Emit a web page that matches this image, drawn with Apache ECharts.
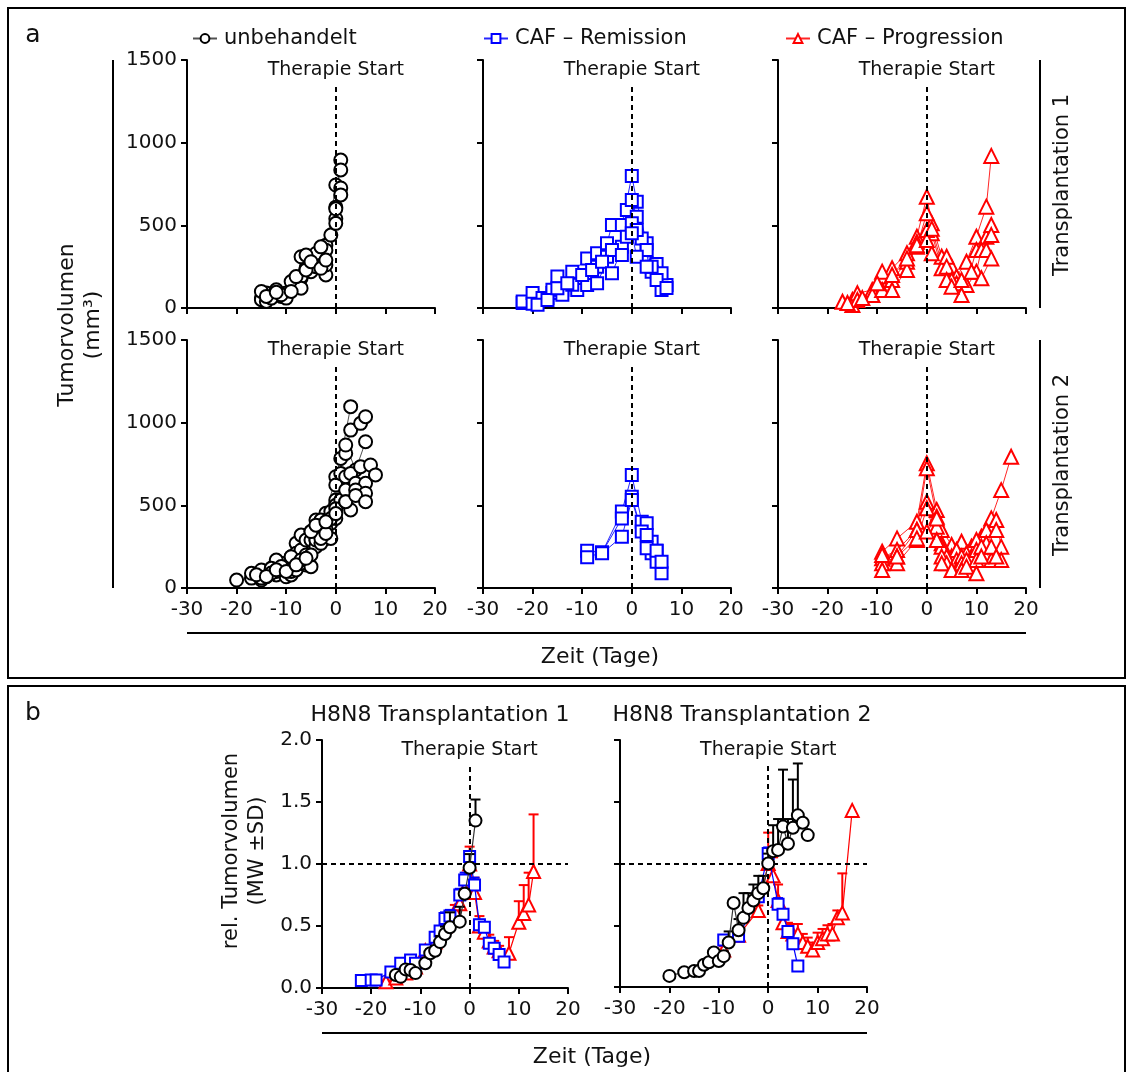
<!DOCTYPE html>
<html>
<head>
<meta charset="utf-8">
<script src="https://cdn.jsdelivr.net/npm/echarts@6.0.0/dist/echarts.min.js"></script>
<style>
  html, body { margin: 0; padding: 0; background: #fff; }
  #chart { width: 1127px; height: 1072px; }
</style>
</head>
<body>
<div id="chart"></div>
<script>
// ---------- a: individual tumour volumes (mm³) per day relative to therapy start ----------
// each tumour is a list of [day, volume] pairs
const t1Untreated = [
  [[-15,60],[-13,80],[-11,70],[-9,110],[-7,180],[-6,240],[-4,290],[-2,380],[0,610],[1,895]],
  [[-15,50],[-14,40],[-12,100],[-10,90],[-8,150],[-7,190],[-5,260],[-3,300],[-2,350],[0,744],[1,835]],
  [[-14,90],[-12,110],[-10,60],[-8,130],[-7,310],[-5,220],[-4,330],[-2,200],[-1,441],[0,540],[1,726]],
  [[-15,100],[-13,60],[-11,80],[-9,160],[-7,120],[-6,320],[-4,250],[-3,370],[-2,260],[0,512],[1,684]],
  [[-14,70],[-12,95],[-9,100],[-8,190],[-6,230],[-5,280],[-3,240],[-2,290],[0,600]]
];
const t1Remission = [
  [[-22,30],[-19,50],[-16,90],[-14,110],[-12,220],[-9,300],[-7,331],[-5,391],[-4,502],[-2,502],[0,799],[1,643],[3,391],[5,266],[7,139]],
  [[-22,40],[-20,90],[-17,60],[-15,190],[-11,109],[-9,200],[-7,250],[-5,310],[-2,371],[-1,593],[0,653],[1,552],[2,420],[4,220],[6,210]],
  [[-20,25],[-18,60],[-16,110],[-14,80],[-12,140],[-9,139],[-7,149],[-4,351],[-2,320],[0,512],[1,472],[3,351],[4,250],[6,109]],
  [[-19,20],[-17,48],[-15,120],[-13,150],[-10,200],[-8,230],[-6,280],[-4,210],[-1,431],[0,452],[1,310],[3,250],[5,169],[7,121]]
];
const t1Progression = [
  [[-17,38],[-15,48],[-11,79],[-9,190],[-7,240],[-4,331],[-2,431],[0,673],[1,512],[3,310],[5,250],[6,190],[8,280],[10,431],[12,613],[13,920]],
  [[-15,18],[-14,89],[-11,109],[-9,220],[-7,169],[-4,280],[-2,371],[0,573],[1,452],[3,240],[4,310],[6,149],[8,139],[10,351],[12,431],[13,502]],
  [[-14,48],[-11,79],[-9,109],[-7,109],[-4,230],[-2,400],[0,472],[1,331],[4,250],[5,169],[7,79],[10,220],[11,351],[12,351],[13,441]],
  [[-16,30],[-13,60],[-10,150],[-7,200],[-4,300],[-2,380],[0,411],[1,480],[4,169],[5,129],[7,169],[9,220],[11,180],[13,300]]
];
const t2Untreated = [
  [[-20,48],[-17,60],[-15,109],[-13,119],[-11,149],[-9,189],[-8,270],[-7,320],[-5,341],[-4,411],[-2,452],[0,673],[1,784],[3,1097]],
  [[-17,89],[-15,48],[-12,169],[-10,119],[-8,210],[-7,230],[-6,290],[-4,341],[-3,411],[-1,391],[0,623],[2,814],[3,955],[5,996],[6,1036]],
  [[-14,68],[-12,79],[-10,68],[-9,79],[-8,149],[-6,200],[-5,290],[-4,290],[-2,361],[-1,462],[0,532],[2,865],[4,714],[6,885]],
  [[-13,119],[-11,119],[-9,100],[-8,109],[-7,149],[-6,139],[-4,250],[-3,331],[-2,300],[0,421],[1,693],[2,673],[3,693],[5,734],[7,744]],
  [[-15,60],[-12,100],[-10,110],[-8,149],[-7,150],[-5,129],[-4,290],[-3,270],[-1,300],[0,500],[1,532],[2,592],[4,633],[6,633],[8,684]],
  [[-16,80],[-13,90],[-11,130],[-9,189],[-7,170],[-5,200],[-3,300],[-2,330],[-1,420],[0,480],[2,522],[3,472],[4,593],[6,573]],
  [[-14,70],[-12,110],[-10,100],[-8,140],[-6,180],[-5,341],[-4,380],[-2,400],[0,450],[2,522],[4,560],[6,522]]
];
const t2Remission = [
  [[-9,226],[-6,214],[-2,462],[0,684],[2,401],[3,391],[4,280],[5,226],[6,89]],
  [[-9,186],[-6,214],[-2,421],[0,552],[2,341],[3,320],[4,210],[5,159]],
  [[-6,210],[-2,310],[0,532],[3,240],[5,226],[6,159]]
];
const t2Progression = [
  [[-9,220],[-6,300],[-2,401],[0,754],[2,472],[3,351],[5,260],[7,280],[9,250],[11,310],[13,421],[15,592],[17,794]],
  [[-9,180],[-6,230],[-2,351],[0,724],[2,431],[3,270],[5,190],[6,230],[8,210],[10,290],[12,351],[14,411],[15,250]],
  [[-9,149],[-6,190],[-2,351],[0,522],[2,371],[3,250],[4,190],[6,170],[7,190],[9,190],[10,230],[12,270],[14,351]],
  [[-9,109],[-6,149],[-2,290],[0,482],[2,290],[3,190],[4,149],[6,109],[7,149],[8,170],[10,170],[11,250],[13,170],[15,170]],
  [[-9,200],[-6,190],[-2,300],[0,341],[2,421],[3,149],[5,109],[7,109],[8,129],[10,89],[11,190],[13,250],[14,190]]
];

// ---------- b: relative tumour volume, mean and SD per day ----------
const b1UntreatedDays = [-15,-14,-13,-12,-11,-9,-8,-7,-6,-5,-4,-2,-1,0,1.2];
const b1UntreatedMean = [0.105,0.09,0.15,0.145,0.12,0.2,0.28,0.30,0.37,0.435,0.49,0.535,0.76,0.97,1.35];
const b1UntreatedSd   = [0.01,0.01,0.02,0.02,0.02,0.03,0.03,0.04,0.05,0.06,0.12,0.12,0.04,0.11,0.17];

const b1RemissionDays = [-22,-20,-19,-16,-14,-12,-11,-9,-7,-6,-5,-4,-2,-1,0,1,2,3,4,5,6,7];
const b1RemissionMean = [0.06,0.065,0.065,0.13,0.2,0.226,0.2,0.306,0.41,0.46,0.56,0.58,0.75,0.87,1.06,0.83,0.51,0.49,0.36,0.32,0.27,0.21];
const b1RemissionSd   = [0.01,0.01,0.01,0.02,0.02,0.03,0.03,0.03,0.04,0.04,0.05,0.05,0.05,0.06,0.04,0.06,0.04,0.04,0.03,0.03,0.03,0.02];

const b1ProgressionDays = [-17,-15,-13,-11,-9,-7,-5,-3,-2,-1,0,1,2,3,4,5,6,8,10,11,12,13];
const b1ProgressionMean = [0.05,0.08,0.12,0.17,0.3,0.37,0.5,0.62,0.68,0.8,1.0,0.77,0.5,0.45,0.38,0.33,0.3,0.28,0.53,0.6,0.67,0.94];
const b1ProgressionSd   = [0.01,0.02,0.02,0.03,0.04,0.04,0.05,0.05,0.05,0.06,0.14,0.12,0.08,0.06,0.05,0.05,0.04,0.13,0.17,0.23,0.26,0.46];

const b2UntreatedDays = [-20,-17,-15,-14,-13,-12,-11,-10,-9,-8,-7,-6,-5,-4,-3,-2,-1,0,1,2,3,4,5,6,7,8];
const b2UntreatedMean = [0.09,0.12,0.13,0.13,0.18,0.2,0.28,0.21,0.25,0.36,0.68,0.46,0.56,0.64,0.7,0.76,0.8,1.0,1.1,1.11,1.3,1.16,1.29,1.39,1.33,1.23];
const b2UntreatedSd   = [0.01,0.01,0.02,0.02,0.02,0.03,0.03,0.03,0.04,0.09,0.02,0.09,0.2,0.12,0.13,0.14,0.1,0.08,0.21,0.25,0.46,0.2,0.39,0.42,0,0];

const b2RemissionDays = [-9,-6,-2,0,2,3,4,5,6];
const b2RemissionMean = [0.38,0.41,0.73,1.08,0.67,0.59,0.45,0.35,0.17];
const b2RemissionSd   = [0.03,0.03,0.05,0.05,0.05,0.04,0.04,0.04,0.03];

const b2ProgressionDays = [-9,-6,-2,0,1,2,3,4,5,6,7,8,9,10,11,12,13,14,15,17];
const b2ProgressionMean = [0.3,0.42,0.62,1.0,0.9,0.7,0.52,0.45,0.43,0.43,0.36,0.33,0.3,0.36,0.39,0.43,0.43,0.56,0.6,1.43];
const b2ProgressionSd   = [0.03,0.05,0.04,0.25,0.15,0.13,0.1,0.07,0.08,0.08,0.07,0.07,0.06,0.08,0.08,0.07,0.08,0.06,0.32,0];

const dayTicks = { min: -30, max: 20, step: 10 };
const groupNames = ['unbehandelt', 'CAF – Remission', 'CAF – Progression'];

// ---------- styling ----------
const FONT = 'DejaVu Sans';
const INK = '#111';
const BLACK = '#000000', BLUE = '#0000ff', RED = '#ff0000';
const looks = [
  { name: groupNames[0], color: BLACK, symbol: 'circle',   size: 13, line: '#333' },
  { name: groupNames[1], color: BLUE,  symbol: 'rect',     size: 12, line: BLUE },
  { name: groupNames[2], color: RED,   symbol: 'triangle', size: 14, line: RED }
];

// grid rectangles: a (2 rows x 3 cols), then b (2 plots)
const grids = [];
[60, 340].forEach(top => [187, 483, 778].forEach(left =>
  grids.push({ left, top, width: 248, height: 248 })));
grids.push({ left: 322, top: 740, width: 246, height: 248 });
grids.push({ left: 620, top: 740, width: 247, height: 247 });

function xAxis(gi, labels) {
  return {
    type: 'value', gridIndex: gi, min: dayTicks.min, max: dayTicks.max, interval: dayTicks.step,
    axisLine: { show: true, onZero: false, lineStyle: { color: '#000', width: 2 } },
    axisTick: { show: true, length: 6, lineStyle: { color: '#000', width: 2 } },
    axisLabel: { show: labels, color: INK, fontSize: 20, fontFamily: FONT, margin: 12 },
    splitLine: { show: false }
  };
}
function yAxis(gi, max, step, labels, fmt) {
  return {
    type: 'value', gridIndex: gi, min: 0, max, interval: step,
    axisLine: { show: true, onZero: false, lineStyle: { color: '#000', width: 2 } },
    axisTick: { show: true, length: 6, lineStyle: { color: '#000', width: 2 } },
    axisLabel: { show: labels, color: INK, fontSize: 20, fontFamily: FONT, margin: 10,
                 formatter: fmt || (v => String(v)) },
    splitLine: { show: false }
  };
}

const xAxes = [], yAxes = [];
for (let i = 0; i < 6; i++) {
  xAxes.push(xAxis(i, i >= 3));
  yAxes.push(yAxis(i, 1500, 500, i % 3 === 0));
}
xAxes.push(xAxis(6, true), xAxis(7, true));
yAxes.push(yAxis(6, 2, 0.5, true, v => v.toFixed(1)));
yAxes.push(yAxis(7, 2, 0.5, false));

const series = [];

function tumourLines(list, gi, look, z) {
  list.forEach(pts => series.push({
    type: 'line', name: look.name, xAxisIndex: gi, yAxisIndex: gi, data: pts,
    symbol: look.symbol, symbolSize: look.size, showSymbol: true, z,
    lineStyle: { color: look.line, width: 1, opacity: 0.85 },
    itemStyle: { color: '#fff', borderColor: look.color, borderWidth: 2 },
    emphasis: { disabled: true }, animation: false, silent: true
  }));
}

function meanLine(days, mean, gi, look, z) {
  series.push({
    type: 'line', name: look.name, xAxisIndex: gi, yAxisIndex: gi,
    data: days.map((d, i) => [d, mean[i]]),
    symbol: look.symbol, symbolSize: look.size - 1, showSymbol: true, z,
    lineStyle: { color: look.line, width: 1.2 },
    itemStyle: { color: '#fff', borderColor: look.color, borderWidth: 2 },
    emphasis: { disabled: true }, animation: false, silent: true
  });
}

function sdBars(days, mean, sd, gi, color, z) {
  const data = days.map((d, i) => [d, mean[i], mean[i] + sd[i]]).filter(r => r[2] > r[1]);
  series.push({
    type: 'custom', xAxisIndex: gi, yAxisIndex: gi, data, z, silent: true, animation: false,
    encode: { x: 0, y: [1, 2] },
    renderItem(params, api) {
      const p0 = api.coord([api.value(0), api.value(1)]);
      const p1 = api.coord([api.value(0), api.value(2)]);
      return { type: 'group', children: [
        { type: 'line', shape: { x1: p0[0], y1: p0[1], x2: p1[0], y2: p1[1] }, style: { stroke: color, lineWidth: 2 } },
        { type: 'line', shape: { x1: p1[0] - 5, y1: p1[1], x2: p1[0] + 5, y2: p1[1] }, style: { stroke: color, lineWidth: 2 } }
      ] };
    }
  });
}

// dashed guide lines (therapy start, and the 1.0 reference in b)
function guide(gi, from, to, withLabel) {
  series.push({
    type: 'line', xAxisIndex: gi, yAxisIndex: gi, data: [], silent: true, animation: false, z: 1,
    markLine: {
      silent: true, symbol: 'none', animation: false,
      lineStyle: { color: '#000', type: [5, 4], width: 2 },
      label: withLabel
        ? { show: true, position: 'end', formatter: 'Therapie Start', color: INK, fontSize: 19, fontFamily: FONT, distance: 4 }
        : { show: false },
      data: [[{ coord: from }, { coord: to }]]
    }
  });
}

// panel a
const aSets = [t1Untreated, t1Remission, t1Progression, t2Untreated, t2Remission, t2Progression];
aSets.forEach((set, i) => {
  const look = looks[i % 3];
  tumourLines(set, i, look, 3);
  guide(i, [0, 0], [0, 1360], true);
});

// panel b
const bSets = [
  [[b1ProgressionDays, b1ProgressionMean, b1ProgressionSd], [b1RemissionDays, b1RemissionMean, b1RemissionSd], [b1UntreatedDays, b1UntreatedMean, b1UntreatedSd]],
  [[b2ProgressionDays, b2ProgressionMean, b2ProgressionSd], [b2RemissionDays, b2RemissionMean, b2RemissionSd], [b2UntreatedDays, b2UntreatedMean, b2UntreatedSd]]
];
bSets.forEach((groups, k) => {
  const gi = 6 + k;
  guide(gi, [0, 0], [0, 1.81], true);
  guide(gi, [dayTicks.min, 1], [dayTicks.max, 1], false);
  [2, 1, 0].forEach((lookIdx, j) => {
    const [d, m, s] = groups[j];
    const look = looks[lookIdx];
    sdBars(d, m, s, gi, look.color, 2 + j * 2);
    meanLine(d, m, gi, look, 3 + j * 2);
  });
});

// legends across the top of a
const legendPos = [187, 478, 780];
const legends = groupNames.map((n, i) => ({
  data: [n], left: legendPos[i], top: 23, orient: 'horizontal',
  itemWidth: 24, itemHeight: 11, itemGap: 0, selectedMode: false,
  textStyle: { color: INK, fontSize: 21, fontFamily: FONT, padding: [0, 0, 0, 2] }
}));

function txt(x, y, text, size, rot, extra) {
  return Object.assign({
    type: 'text', x, y, rotation: rot || 0, silent: true,
    style: { text, fill: INK, font: size + 'px "' + FONT + '"', align: 'center', verticalAlign: 'middle' }
  }, extra || {});
}
function seg(x1, y1, x2, y2, w) {
  return { type: 'line', silent: true, shape: { x1, y1, x2, y2 }, style: { stroke: '#000', lineWidth: w || 2 } };
}

const graphic = [
  { type: 'rect', silent: true, shape: { x: 8, y: 8, width: 1117, height: 670 }, style: { fill: 'none', stroke: '#000', lineWidth: 2 } },
  { type: 'rect', silent: true, shape: { x: 8, y: 686, width: 1117, height: 420 }, style: { fill: 'none', stroke: '#000', lineWidth: 2 } },
  txt(33, 35, 'a', 25),
  txt(33, 713, 'b', 25),
  // a: shared axis titles
  seg(113, 60, 113, 588),
  txt(67, 325, 'Tumorvolumen', 22, Math.PI / 2),
  txt(93, 325, '(mm³)', 22, Math.PI / 2),
  seg(187, 633, 1026, 633),
  txt(600, 657, 'Zeit (Tage)', 22),
  seg(1040, 60, 1040, 308),
  seg(1040, 340, 1040, 588),
  txt(1063, 185, 'Transplantation 1', 21, Math.PI / 2),
  txt(1063, 465, 'Transplantation 2', 21, Math.PI / 2),
  // b: titles and axis titles
  txt(440, 715, 'H8N8 Transplantation 1', 22),
  txt(742, 715, 'H8N8 Transplantation 2', 22),
  txt(232, 851, 'rel. Tumorvolumen', 21, Math.PI / 2),
  txt(258, 851, '(MW ±SD)', 21, Math.PI / 2),
  seg(322, 1033, 867, 1033),
  txt(592, 1057, 'Zeit (Tage)', 22)
];

const chart = echarts.init(document.getElementById('chart'), null, { renderer: 'canvas' });
chart.setOption({
  backgroundColor: '#fff',
  animation: false,
  textStyle: { fontFamily: FONT },
  grid: grids.map(g => Object.assign({ containLabel: false, outerBoundsMode: 'none' }, g)),
  xAxis: xAxes,
  yAxis: yAxes,
  legend: legends,
  graphic,
  series
});
</script>
</body>
</html>
